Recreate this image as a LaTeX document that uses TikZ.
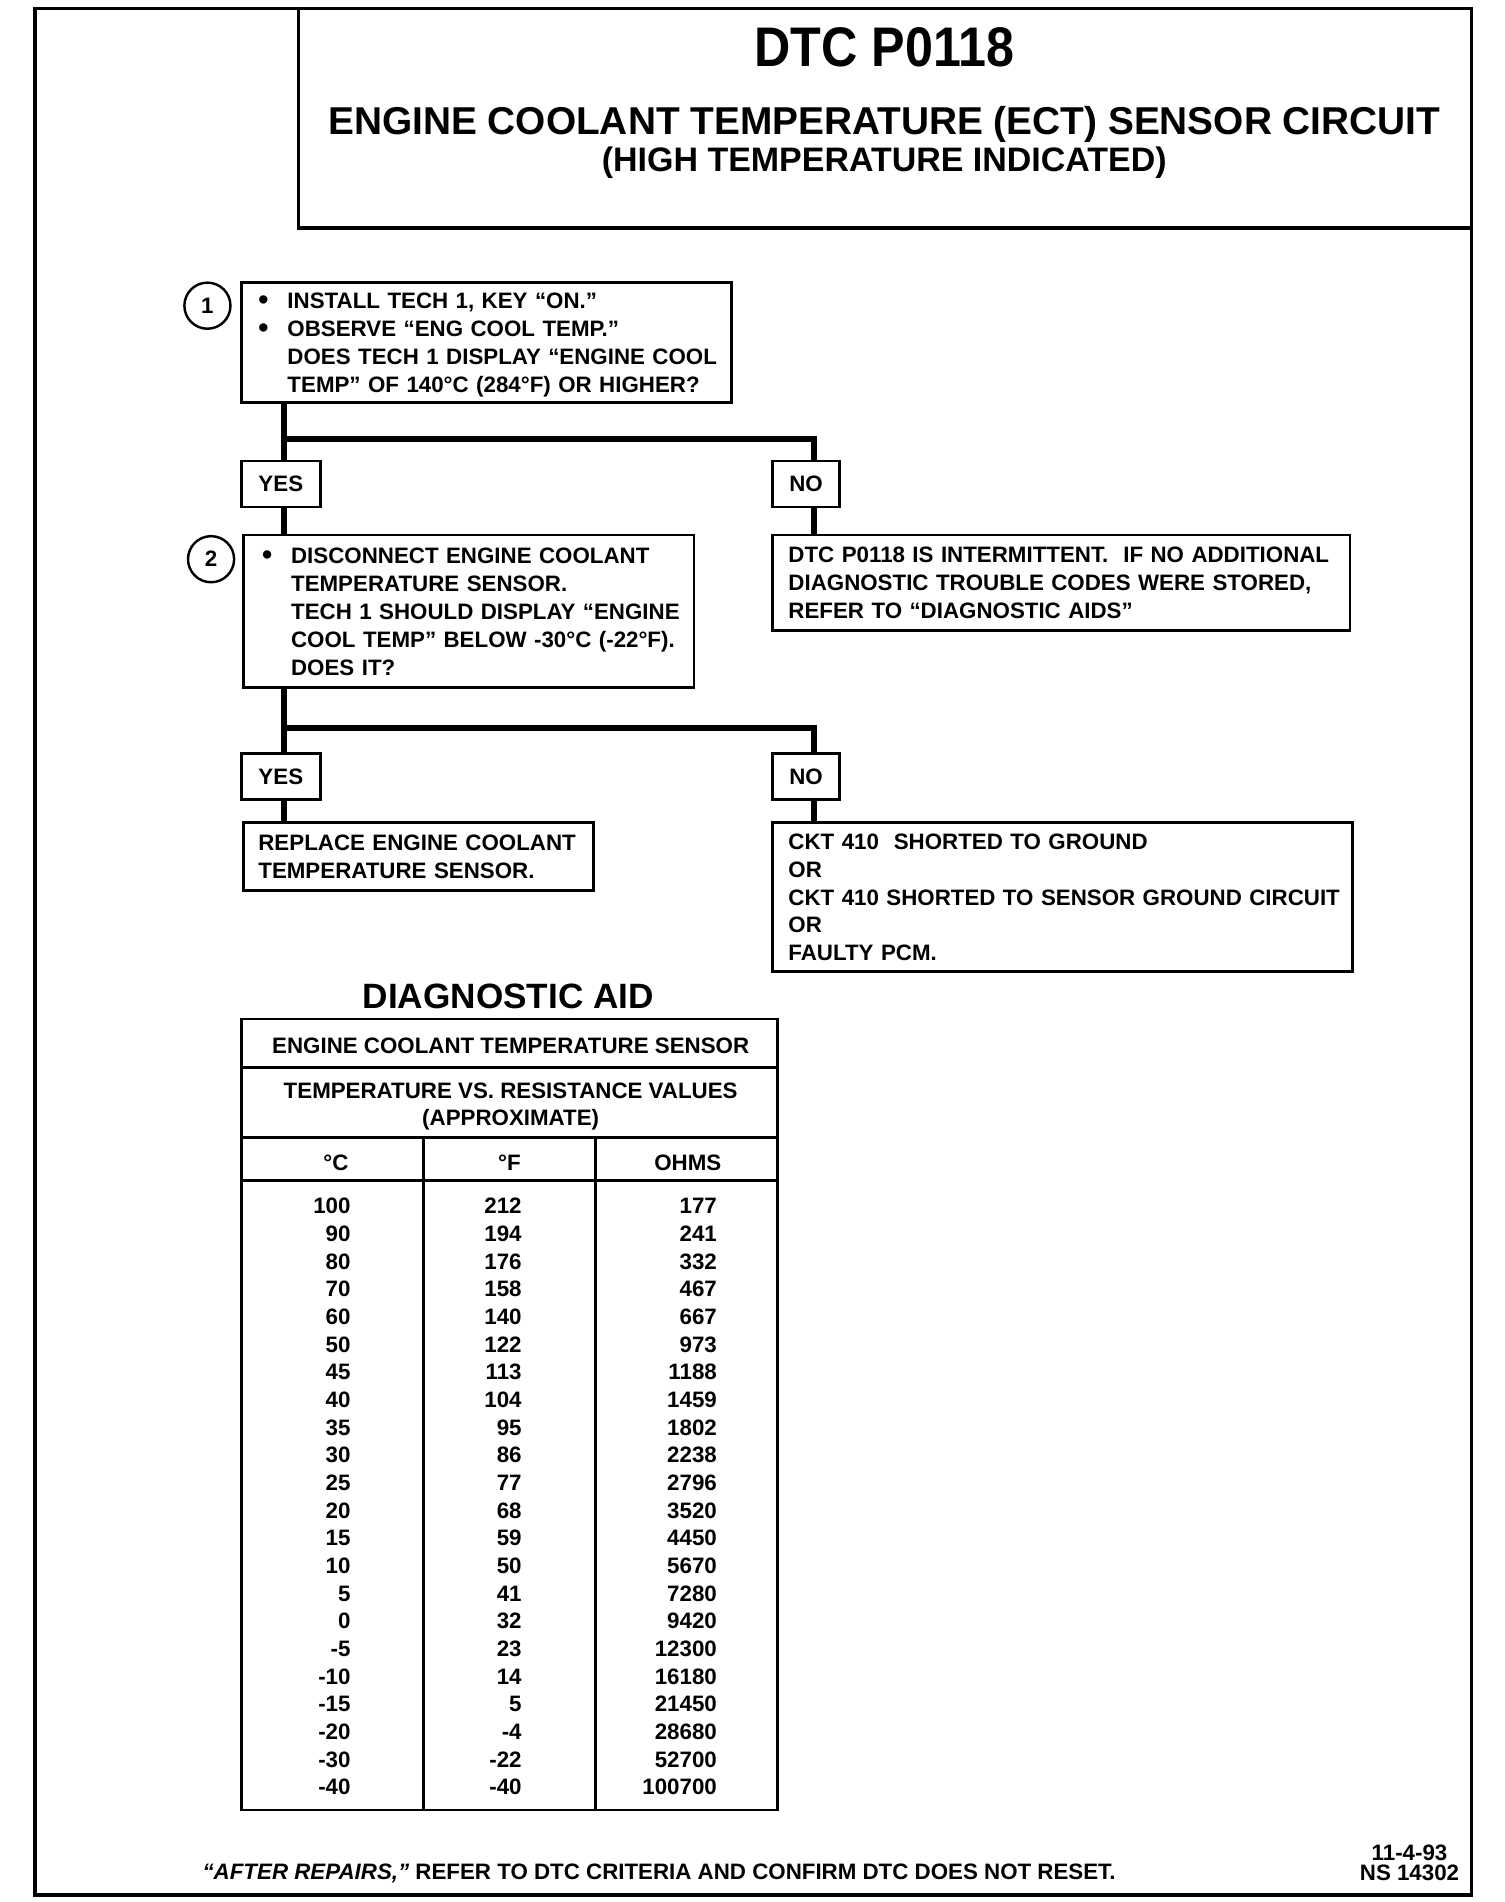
\documentclass[tikz,border=0pt]{standalone}
\usepackage{fontspec}
\setmainfont{Liberation Sans}
\newcommand\mybul{\makebox[12pt][l]{\raisebox{-0.2pt}{\scalebox{1.3}{\textbullet}}}}
\newcommand\myind{\hspace*{12pt}}
\newcommand\mygap[1]{\hspace*{#1}}
\newcommand\mytopstrut{\rule{0pt}{9pt}}
\newcommand\mybotstrut{\rule[-2.4pt]{0pt}{2.4pt}}
\begin{document}
\begin{tikzpicture}[x=0.5pt,y=-0.5pt,
  every node/.style={font=\bfseries\fontsize{9.2}{11.5}\selectfont, inner sep=0pt, outer sep=0pt},
  box/.style={draw, line width=1.1pt, anchor=north west, align=left, inner sep=0pt},
  lbl/.style={draw, line width=1.1pt, anchor=north west, minimum height=19pt},
  conn/.style={line width=2.6pt},
  num/.style={draw, circle, line width=1pt, minimum size=19pt},
  cell/.style={anchor=base east},
  frame/.style={line width=1.5pt},
  tbl/.style={line width=1.1pt}
]
\useasboundingbox (0,0) rectangle (1240,1568);
\fill[white] (0,0) rectangle (1240,1568);

% frame and title box
\draw[frame] (29,7) rectangle (1213,1562);
\draw[frame] (246,7) -- (246,188) -- (1213,188);
\node[anchor=base, font=\bfseries\fontsize{23}{23}\selectfont] (title) at (729,54.5) {\scalebox{0.9}[1]{DTC P0118}};
\node[anchor=base, font=\bfseries\fontsize{16}{16}\selectfont] (sub1) at (729,110.5) {ENGINE COOLANT TEMPERATURE (ECT) SENSOR CIRCUIT};
\node[anchor=base, font=\bfseries\fontsize{14}{14}\selectfont] (sub2) at (729,141) {(HIGH TEMPERATURE INDICATED)};

% step 1
\node[num] (c1) at (171,252) {1};
\node[box, text width=202pt, minimum height=49.5pt] (b1) at (199,233) {%
\mygap{7pt}\mytopstrut\mybul INSTALL TECH 1, KEY “ON.”\\
\mygap{7pt}\mybul OBSERVE “ENG COOL TEMP.”\\
\mygap{7pt}\myind DOES TECH 1 DISPLAY “ENGINE COOL\\
\mygap{7pt}\myind TEMP” OF 140°C (284°F) OR HIGHER?\mybotstrut};

\node[lbl, minimum width=32.5pt] (yes1) at (199,380) {YES};
\node[lbl, minimum width=27.5pt] (no1) at (637,380) {NO};

% step 2
\node[num] (c2) at (174,461) {2};
\node[box, text width=185.5pt, minimum height=63pt] (b2) at (201,441) {%
\mygap{7.5pt}\mytopstrut\mybul DISCONNECT ENGINE COOLANT\\
\mygap{7.5pt}\myind TEMPERATURE SENSOR.\\
\mygap{7.5pt}\myind TECH 1 SHOULD DISPLAY “ENGINE\\
\mygap{7.5pt}\myind COOL TEMP” BELOW -30°C (-22°F).\\
\mygap{7.5pt}\myind DOES IT?\mybotstrut};

\node[box, text width=238pt, minimum height=39.5pt] (bn1) at (637,441) {%
\mygap{6.5pt}\mytopstrut DTC P0118 IS INTERMITTENT.\ \ IF NO ADDITIONAL\\
\mygap{6.5pt}DIAGNOSTIC TROUBLE CODES WERE STORED,\\
\mygap{6.5pt}REFER TO “DIAGNOSTIC AIDS”\mybotstrut};

\node[lbl, minimum width=32.5pt] (yes2) at (199,621) {YES};
\node[lbl, minimum width=27.5pt] (no2) at (637,621) {NO};

\node[box, text width=144pt, minimum height=28pt] (rep) at (201,678) {%
\mygap{6pt}\mytopstrut REPLACE ENGINE COOLANT\\
\mygap{6pt}TEMPERATURE SENSOR.\mybotstrut};

\node[box, text width=239pt, minimum height=61.5pt] (ckt) at (637,678) {%
\mygap{6.5pt}\mytopstrut CKT 410\ \ SHORTED TO GROUND\\
\mygap{6.5pt}OR\\
\mygap{6.5pt}CKT 410 SHORTED TO SENSOR GROUND CIRCUIT\\
\mygap{6.5pt}OR\\
\mygap{6.5pt}FAULTY PCM.\mybotstrut};

% connectors
\coordinate (j1) at (234,362);
\coordinate (k1) at (671,362);
\coordinate (j2) at (234,600);
\coordinate (k2) at (671,600);
\draw[conn] (b1.south -| j1) -- (yes1.north -| j1);
\draw[conn] (j1) -- (k1) -- (no1.north -| k1);
\draw[conn] (yes1.south -| j1) -- (b2.north -| j1);
\draw[conn] (no1.south -| k1) -- (bn1.north -| k1);
\draw[conn] (b2.south -| j2) -- (yes2.north -| j2);
\draw[conn] (j2) -- (k2) -- (no2.north -| k2);
\draw[conn] (yes2.south -| j2) -- (rep.north -| j2);
\draw[conn] (no2.south -| k2) -- (ckt.north -| k2);

% diagnostic aid table
\node[anchor=base, font=\bfseries\fontsize{14.5}{14.5}\selectfont] (da) at (419,831) {DIAGNOSTIC AID};
\draw[tbl] (199,840) rectangle (641,1492);
\draw[tbl] (199,880) -- (641,880);
\draw[tbl] (199,938) -- (641,938);
\draw[tbl] (199,973) -- (641,973);
\draw[tbl] (349,938) -- (349,1492);
\draw[tbl] (491,938) -- (491,1492);
\node[anchor=base] (th1) at (421,868.6) {ENGINE COOLANT TEMPERATURE SENSOR};
\node[anchor=base] (th2) at (421,905.6) {TEMPERATURE VS. RESISTANCE VALUES};
\node[anchor=base] (th3) at (421,927.6) {(APPROXIMATE)};
\node[anchor=base] (hc) at (277,964.6) {°C};
\node[anchor=base] (hf) at (420,964.6) {°F};
\node[anchor=base] (ho) at (567,964.6) {OHMS};
\foreach \c/\f/\o [count=\i from 0] in {100/212/177,90/194/241,80/176/332,70/158/467,60/140/667,50/122/973,45/113/1188,40/104/1459,35/95/1802,30/86/2238,25/77/2796,20/68/3520,15/59/4450,10/50/5670,5/41/7280,0/32/9420,-5/23/12300,-10/14/16180,-15/5/21450,-20/-4/28680,-30/-22/52700,-40/-40/100700}{
  \node[cell] (rc\i) at (289,1000.6+22.81*\i) {\c};
  \node[cell] (rf\i) at (430,1000.6+22.81*\i) {\f};
  \node[cell] (ro\i) at (591,1000.6+22.81*\i) {\o};
}

% footer
\node[anchor=base west] (foot) at (167,1549.6) {\textit{“AFTER REPAIRS,”} REFER TO DTC CRITERIA AND CONFIRM DTC DOES NOT RESET.};
\node[anchor=base] (date) at (1162,1533.6) {11-4-93};
\node[anchor=base] (ns) at (1162,1550.6) {NS 14302};
\end{tikzpicture}
\end{document}
